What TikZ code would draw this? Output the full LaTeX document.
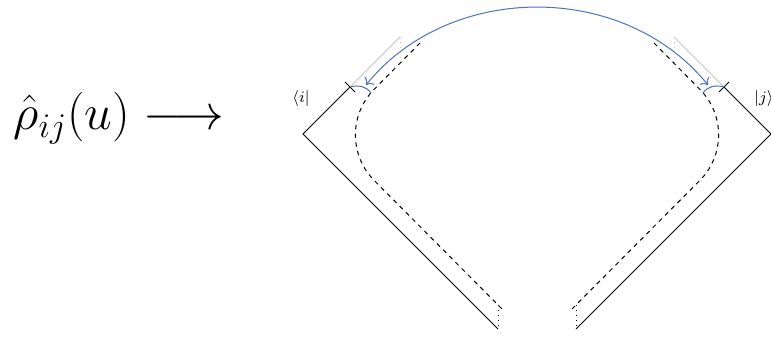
\documentclass[tikz,border=0pt]{standalone}
\usepackage{amsmath,amssymb}
\usepackage{xcolor}
\usepackage{tikz}
\usetikzlibrary{arrows.meta, positioning, calc}
\definecolor{arcblue}{RGB}{76,114,186}

\begin{document}
\begin{tikzpicture}[
  x=0.5pt, y=0.5pt,
  edge/.style={line width=0.5pt},
  ghost/.style={gray!45, line width=0.5pt},
  ghostdot/.style={gray!45, dotted, line width=0.5pt},
  contour/.style={line width=0.5pt, dash pattern=on 2.2pt off 2.2pt, rounded corners=32pt},
  cut/.style={line width=0.5pt, dotted},
  glue/.style={arcblue, line width=0.5pt},
  swap/.style={arcblue, line width=0.5pt, {To[length=3pt]}-{To[length=3pt]}},
  lbl/.style={font=\footnotesize, inner sep=0pt},
]
\useasboundingbox (0,0) rectangle (771,337);

% left half
\coordinate (lvert) at (303,203);
\coordinate (ltop)  at (350,250);
\coordinate (lbot)  at (498,8);
\coordinate (lghost) at (400,300);
\coordinate (lcorner) at (329,202);
\coordinate (ldtop) at (420,294);
\coordinate (ldbot) at (505,25);
\coordinate (ljoin) at (371,244);
\coordinate (lcut) at (498,32);

% right half
\coordinate (rvert) at (771,203);
\coordinate (rtop)  at (724,250);
\coordinate (rbot)  at (576,8);
\coordinate (rghost) at (674,300);
\coordinate (rcorner) at (745,202);
\coordinate (rdtop) at (654,294);
\coordinate (rdbot) at (569,25);
\coordinate (rjoin) at (703,244);
\coordinate (rcut) at (576,32);

\node[font=\fontsize{23.5}{28}\selectfont, inner sep=0pt, anchor=base west] (rhoij) at (13,207)
  {$\hat{\rho}_{ij}(u) \longrightarrow$};
\node[lbl] (bra) at (301,238) {$\langle i|$};
\node[lbl] (ket) at (764,238) {$|j\rangle$};

\draw[edge] (ltop) -- (lvert) -- (lbot);
\draw[edge] (rtop) -- (rvert) -- (rbot);
\draw[edge] ($(ltop)+(-5,5)$) -- ($(ltop)+(5,-5)$);
\draw[edge] ($(rtop)+(5,5)$) -- ($(rtop)+(-5,-5)$);

\draw[ghost] (ltop) -- (lghost);
\draw[ghostdot] (lghost) -- ++(0,-26);
\draw[ghost] (rtop) -- (rghost);
\draw[ghostdot] (rghost) -- ++(0,-26);

\draw[contour] (ldtop) -- (lcorner) -- (ldbot);
\draw[contour] (rdtop) -- (rcorner) -- (rdbot);
\draw[cut] (lcut) -- (lbot);
\draw[cut] (rcut) -- (rbot);

\draw[glue] (ltop) to[out=15, in=125] (ljoin);
\draw[glue] (rtop) to[out=165, in=55] (rjoin);
\coordinate (larr) at (366,252);
\coordinate (rarr) at (708,252);
\draw[swap] (larr) to[out=51, in=129] (rarr);
\end{tikzpicture}
\end{document}
